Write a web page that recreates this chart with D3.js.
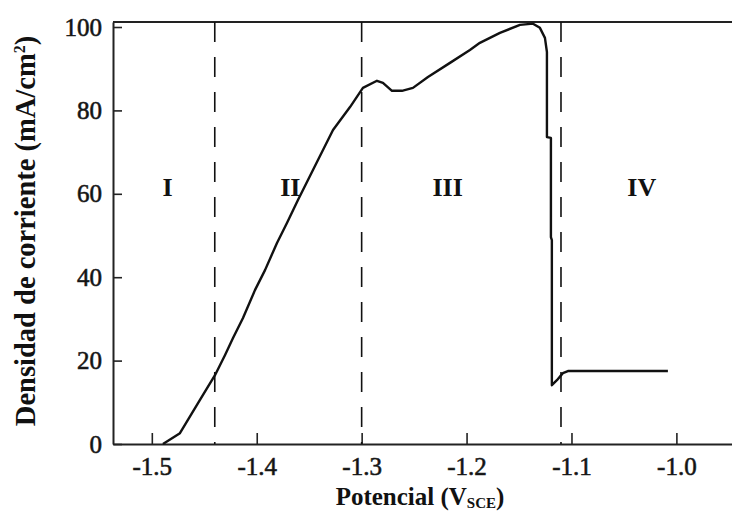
<!DOCTYPE html>
<html>
<head>
<meta charset="utf-8">
<script src="https://cdn.jsdelivr.net/npm/d3@7"></script>
<style>
  body { margin: 0; background: #fff; }
  svg { display: block; }
  text { font-family: "Liberation Serif", "Times New Roman", serif; fill: #111; }
</style>
</head>
<body>
<div id="chart"></div>
<script>
// datos
const potencial = [-1.4894, -1.4732, -1.4541, -1.4398, -1.4303, -1.4226, -1.4131, -1.4017, -1.3921, -1.3807,
  -1.3712, -1.3607, -1.3464, -1.3273, -1.3111, -1.2988, -1.2854, -1.2797, -1.2711, -1.2616, -1.2511, -1.2368,
  -1.2158, -1.1968, -1.1873, -1.1682, -1.1491, -1.1367, -1.1301, -1.1253, -1.1234, -1.1234, -1.1196, -1.1196,
  -1.1187, -1.1187, -1.1139, -1.1082, -1.1034, -1.0081]
const densidad = [0, 2.6, 10.6, 16.5, 21.3, 25.4, 30.2, 36.9, 41.7, 48.2,
  53, 58.5, 65.7, 75.3, 80.8, 85.4, 87.1, 86.6, 84.7, 84.7, 85.4, 88,
  91.4, 94.5, 96.2, 98.6, 100.5, 100.8, 99.8, 97.4, 94, 73.6, 73.4, 49.6,
  48.9, 14.1, 15.3, 17, 17.5, 17.5]
const xTicks = [-1.5, -1.4, -1.3, -1.2, -1.1, -1.0]
const yTicks = [0, 20, 40, 60, 80, 100]
const limites = [-1.44, -1.30, -1.11]
const zonas = ["I", "II", "III", "IV"]
const zonasX = [-1.485, -1.368, -1.218, -1.033]

const width = 732
const height = 511
const margin = { top: 22, right: 0, bottom: 67, left: 113 }

const svg = d3.select("div#chart")
  .append("svg")
  .attr("width", width)
  .attr("height", height)

const x = d3.scaleLinear()
  .domain([-1.537, -0.947])
  .range([margin.left, width - margin.right])
const y = d3.scaleLinear()
  .domain([0, 101.2])
  .range([height - margin.bottom, margin.top])

// ejes
const fmt = d => d3.format(".1f")(d).replace("−", "-")
const xAxis = d3.axisBottom(x).tickValues(xTicks).tickFormat(fmt).tickSizeInner(-11).tickSizeOuter(0).tickPadding(13)
const yAxis = d3.axisLeft(y).tickValues(yTicks).tickSizeInner(-9).tickSizeOuter(0).tickPadding(11)

const xAxisGroup = svg.append("g")
  .attr("transform", `translate(0,${height - margin.bottom})`)
  .call(xAxis)
const yAxisGroup = svg.append("g")
  .attr("transform", `translate(${margin.left},0)`)
  .call(yAxis)

svg.selectAll(".domain").attr("stroke", "#222").attr("stroke-width", 2)
svg.selectAll(".tick line").attr("stroke", "#222").attr("stroke-width", 1.6)
svg.selectAll(".tick text")
  .style("font-family", "'Liberation Serif', serif")
  .style("font-size", "25px")
  .attr("fill", "#222")
  .attr("stroke", "#222")
  .attr("stroke-width", 0.6)

// línea superior
svg.append("line")
  .attr("x1", margin.left).attr("x2", width)
  .attr("y1", margin.top).attr("y2", margin.top)
  .attr("stroke", "#222").attr("stroke-width", 2)

// líneas discontinuas
svg.selectAll("line.limite")
  .data(limites)
  .join("line")
  .attr("class", "limite")
  .attr("x1", d => x(d)).attr("x2", d => x(d))
  .attr("y1", margin.top).attr("y2", height - margin.bottom)
  .attr("stroke", "#111")
  .attr("stroke-width", 1.6)
  .attr("stroke-dasharray", "20,15")

// curva
const puntos = potencial.map((p, i) => [p, densidad[i]])
svg.append("path")
  .datum(puntos)
  .attr("d", d3.line().x(d => x(d[0])).y(d => y(d[1])))
  .attr("fill", "none")
  .attr("stroke", "#111")
  .attr("stroke-width", 2.4)
  .attr("stroke-linejoin", "round")

// etiquetas de zonas
svg.selectAll("text.zona")
  .data(zonas)
  .join("text")
  .attr("class", "zona")
  .attr("x", (d, i) => x(zonasX[i]))
  .attr("y", y(59.5))
  .attr("text-anchor", "middle")
  .style("font-size", "26px")
  .style("font-weight", "bold")
  .text(d => d)

// títulos de ejes
const xt = svg.append("text")
  .attr("x", 420)
  .attr("y", 505)
  .attr("text-anchor", "middle")
  .style("font-size", "25px")
  .style("font-weight", "bold")
xt.append("tspan").text("Potencial (V")
xt.append("tspan").attr("dy", 3).style("font-size", "15px").text("SCE")
xt.append("tspan").attr("dy", -3).text(")")

const yt = svg.append("text")
  .attr("transform", "translate(35,231) rotate(-90)")
  .attr("text-anchor", "middle")
  .style("font-size", "28.5px")
  .style("font-weight", "bold")
yt.append("tspan").text("Densidad de corriente (mA/cm")
yt.append("tspan").attr("dy", -10).style("font-size", "16px").text("2")
yt.append("tspan").attr("dy", 10).text(")")
</script>
</body>
</html>
